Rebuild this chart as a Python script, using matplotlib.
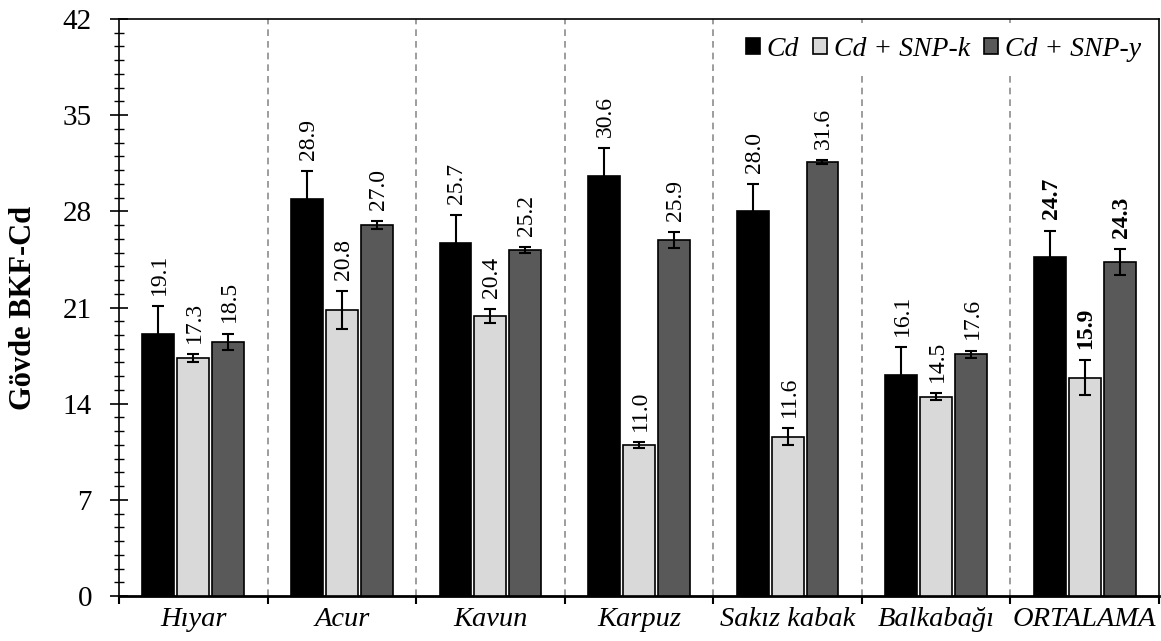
import matplotlib
matplotlib.use("Agg")
import matplotlib.pyplot as plt
from matplotlib.ticker import MultipleLocator, FixedLocator, NullFormatter
import numpy as np

plt.rcParams['font.family'] = ['Liberation Serif', 'DejaVu Serif']

categories = ['Hıyar', 'Acur', 'Kavun', 'Karpuz', 'Sakız kabak', 'Balkabağı', 'ORTALAMA']
series_names = ['Cd', 'Cd + SNP-k', 'Cd + SNP-y']
cd = [19.1, 28.9, 25.7, 30.6, 28.0, 16.1, 24.7]
cd_snp_k = [17.3, 20.8, 20.4, 11.0, 11.6, 14.5, 15.9]
cd_snp_y = [18.5, 27.0, 25.2, 25.9, 31.6, 17.6, 24.3]
cd_err = [2.0, 2.0, 2.0, 2.0, 2.0, 2.0, 1.9]
cd_snp_k_err = [0.3, 1.4, 0.5, 0.2, 0.6, 0.25, 1.3]
cd_snp_y_err = [0.6, 0.27, 0.22, 0.6, 0.15, 0.27, 0.95]

colors = ['#000000', '#d9d9d9', '#595959']
offsets = [-0.235, 0.0, 0.235]
bar_width = 0.215

fig = plt.figure(figsize=(11.61, 6.41), dpi=100)
ax = fig.add_axes([119 / 1161, 1 - 596 / 641, 1040 / 1161, 577 / 641])

x = np.arange(len(categories)) + 0.5
series = [(cd, cd_err), (cd_snp_k, cd_snp_k_err), (cd_snp_y, cd_snp_y_err)]

for k, (vals, errs) in enumerate(series):
    ax.bar(x + offsets[k], vals, bar_width, yerr=errs, color=colors[k],
           edgecolor='black', linewidth=1.2, label=series_names[k], zorder=3,
           error_kw=dict(ecolor='black', elinewidth=1.5, capsize=4, capthick=1.5))
    for i, (v, e) in enumerate(zip(vals, errs)):
        weight = 'bold' if categories[i] == 'ORTALAMA' else 'normal'
        ax.annotate(f'{v:.1f}', (x[i] + offsets[k], v + e), xytext=(1, 8),
                    textcoords='offset points', rotation=90, ha='center',
                    va='bottom', fontsize=17, fontweight=weight, zorder=4)

# group separators
for b in range(1, len(categories)):
    ax.axvline(b, color='#8c8c8c', linestyle=(0, (4, 3)), linewidth=1.2, zorder=1)

ax.set_xlim(0, len(categories))
ax.set_ylim(0, 42)
ax.yaxis.set_major_locator(MultipleLocator(7))
ax.yaxis.set_minor_locator(MultipleLocator(1))
ax.tick_params(axis='y', which='major', direction='inout', length=13, width=1.2,
               labelsize=21, pad=13)
ax.tick_params(axis='y', which='minor', direction='inout', length=7, width=1)

ax.xaxis.set_major_locator(FixedLocator(range(len(categories) + 1)))
ax.xaxis.set_major_formatter(NullFormatter())
ax.xaxis.set_minor_locator(FixedLocator(x))
ax.set_xticklabels(categories, minor=True, fontstyle='italic', fontsize=20.5)
ax.tick_params(axis='x', which='major', direction='out', length=6, width=1.5)
ax.tick_params(axis='x', which='minor', length=0, pad=8)

for side in ['left', 'right', 'top']:
    ax.spines[side].set_linewidth(1.2)
ax.spines['bottom'].set_linewidth(2)

ax.set_ylabel('Gövde BKF-Cd', fontsize=22, fontweight='bold')
ax.yaxis.set_label_coords(-0.078, 0.5)

leg = ax.legend(loc='upper right', ncol=3, frameon=True,
                fancybox=False, edgecolor='none', framealpha=1,
                handlelength=0.5, handleheight=0.5, handletextpad=0.25,
                columnspacing=0.5, borderaxespad=0.15, borderpad=0.5,
                prop={'style': 'italic', 'size': 20})
leg.set_zorder(5)

fig.savefig('out.png', dpi=100)
